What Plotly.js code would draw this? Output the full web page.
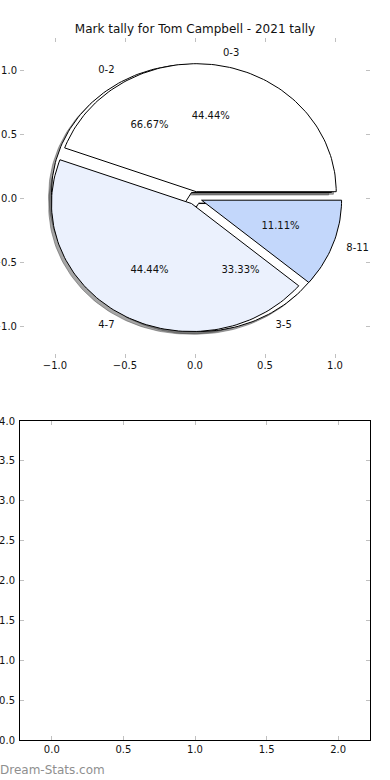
<!DOCTYPE html>
<html><head><meta charset="utf-8">
<script src="https://cdn.plot.ly/plotly-3.0.1.min.js"></script>
<style>html,body{margin:0;padding:0;background:#fff}#chart{width:390px;height:780px}</style>
</head><body><div id="chart"></div>
<script>
// ---- data ----
const tallyLabels = ['0-3', '4-7', '8-11'];
const tallyCounts = [4, 4, 1];
const underLabels = ['0-2', '3-5'];
const underCounts = [6, 3];
const pieTicks = [-1, -0.5, 0, 0.5, 1];
const emptyXTicks = [0, 0.5, 1, 1.5, 2];
const emptyYTicks = [0, 0.5, 1, 1.5, 2, 2.5, 3, 3.5, 4];
const chartTitle = 'Mark tally for Tom Campbell - 2021 tally';
const watermark = 'Dream-Stats.com';

// ---- style ----
const tallyColors = ['#ffffff', '#ebf1fd', '#c3d7fb'];
const underColors = ['#ffffff', '#ffffff'];
const EXPLODE = 0.05, LABEL_D = 1.1, PCT_D = 0.6, SH = -0.02;
const FONT = 'DejaVu Sans, Verdana, sans-serif';
const TXT = '#111111';

function wedgeGeom(labels, counts) {
  const total = counts.reduce((a, b) => a + b, 0);
  let t1 = 0;
  return counts.map((v, i) => {
    const t2 = t1 + 360 * v / total;
    const mid = (t1 + t2) / 2 * Math.PI / 180;
    const cx = EXPLODE * Math.cos(mid), cy = EXPLODE * Math.sin(mid);
    const xs = [cx], ys = [cy];
    const n = Math.max(6, Math.ceil((t2 - t1) / 1.5));
    for (let k = 0; k <= n; k++) {
      const a = (t1 + (t2 - t1) * k / n) * Math.PI / 180;
      xs.push(cx + Math.cos(a)); ys.push(cy + Math.sin(a));
    }
    xs.push(cx); ys.push(cy);
    const g = {label: labels[i], pct: (100 * v / total).toFixed(2) + '%',
      xs, ys, cx, cy, mid};
    t1 = t2;
    return g;
  });
}

const under = wedgeGeom(underLabels, underCounts);
const tally = wedgeGeom(tallyLabels, tallyCounts);
const traces = [];

// shadows (beneath all wedges)
[...under, ...tally].forEach(g => {
  traces.push({type: 'scatter', mode: 'lines', x: g.xs.map(x => x + SH), y: g.ys.map(y => y + SH),
    fill: 'toself', fillcolor: 'rgba(77,77,77,0.5)', line: {color: 'rgba(77,77,77,0.5)', width: 1},
    hoverinfo: 'skip', xaxis: 'x', yaxis: 'y'});
});
// underlying pie
under.forEach((g, i) => {
  traces.push({type: 'scatter', mode: 'lines', x: g.xs, y: g.ys, fill: 'toself',
    fillcolor: underColors[i], line: {color: '#000', width: 1}, hoverinfo: 'skip', xaxis: 'x', yaxis: 'y'});
});
// top pie
tally.forEach((g, i) => {
  traces.push({type: 'scatter', mode: 'lines', x: g.xs, y: g.ys, fill: 'toself',
    fillcolor: tallyColors[i], line: {color: '#000', width: 1}, hoverinfo: 'skip', xaxis: 'x', yaxis: 'y'});
});
// texts
[...under, ...tally].forEach(g => {
  const lx = g.cx + LABEL_D * Math.cos(g.mid), ly = g.cy + LABEL_D * Math.sin(g.mid);
  traces.push({type: 'scatter', mode: 'text', x: [lx], y: [ly], text: [g.label],
    textposition: lx > 0 ? 'middle right' : 'middle left', cliponaxis: false,
    textfont: {family: FONT, size: 10, color: TXT}, hoverinfo: 'skip', xaxis: 'x', yaxis: 'y'});
  traces.push({type: 'scatter', mode: 'text', x: [g.cx + PCT_D * Math.cos(g.mid)], y: [g.cy + PCT_D * Math.sin(g.mid)],
    text: [g.pct], textposition: 'middle center', cliponaxis: false,
    textfont: {family: FONT, size: 10, color: TXT}, hoverinfo: 'skip', xaxis: 'x', yaxis: 'y'});
});
// empty lower axes
traces.push({type: 'scatter', mode: 'markers', x: [], y: [], xaxis: 'x2', yaxis: 'y2', hoverinfo: 'skip'});

const tickStyle = {ticks: 'inside', ticklen: 4, tickwidth: 1, tickcolor: '#c0c0c0', mirror: 'ticks',
  showgrid: false, zeroline: false, fixedrange: true, tickformat: '.1f',
  tickfont: {family: FONT, size: 10, color: TXT}};

const layout = {
  width: 390, height: 780, margin: {l: 0, r: 0, t: 0, b: 0},
  paper_bgcolor: '#ffffff', plot_bgcolor: '#ffffff', showlegend: false,
  font: {family: FONT, size: 10, color: TXT},
  title: {text: chartTitle, font: {family: FONT, size: 12, color: TXT}, x: 0.5, xanchor: 'center',
    xref: 'paper', y: 1 - 29 / 780, yanchor: 'middle', yref: 'container'},
  xaxis: Object.assign({}, tickStyle, {domain: [20 / 390, 370 / 390], range: [-1.25, 1.25],
    tickvals: pieTicks, showline: false, anchor: 'y'}),
  yaxis: Object.assign({}, tickStyle, {domain: [422 / 780, 742 / 780], range: [-1.25, 1.25],
    tickvals: pieTicks, showline: false, anchor: 'x', ticklabelstandoff: 2}),
  xaxis2: Object.assign({}, tickStyle, {domain: [20 / 390, 370 / 390], range: [-0.222, 2.222],
    tickvals: emptyXTicks, showline: true, linecolor: '#000', linewidth: 1, anchor: 'y2'}),
  yaxis2: Object.assign({}, tickStyle, {domain: [40 / 780, 359 / 780], range: [0, 4],
    tickvals: emptyYTicks, showline: true, linecolor: '#000', linewidth: 1, anchor: 'x2', ticklabelstandoff: 2}),
  annotations: [{text: watermark, xref: 'paper', yref: 'paper', x: 0, xanchor: 'left', xshift: -2,
    y: 10 / 780, yanchor: 'middle', showarrow: false,
    font: {family: FONT, size: 12, color: '#8f8f8f'}}]
};

Plotly.newPlot('chart', traces, layout, {staticPlot: true, displayModeBar: false});
</script>
</body></html>
